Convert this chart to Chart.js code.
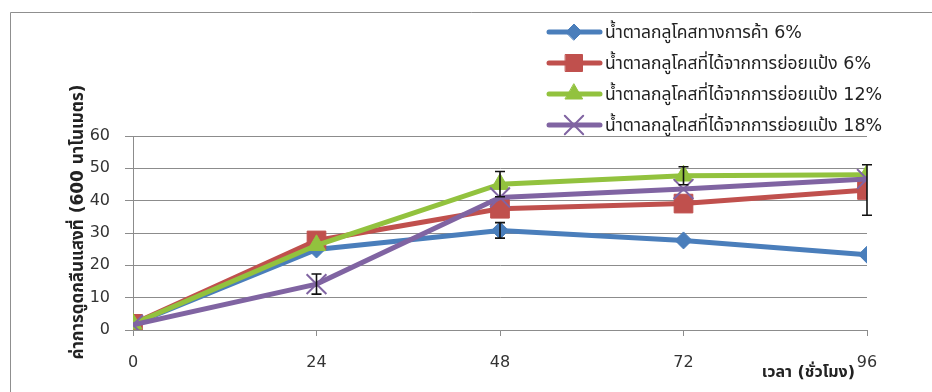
<!DOCTYPE html>
<html>
<head>
<meta charset="utf-8">
<script src="https://cdn.jsdelivr.net/npm/chart.js@4/dist/chart.umd.min.js"></script>
<style>
  html, body { margin: 0; padding: 0; background: #fff; }
  #wrap { width: 932px; height: 392px; position: relative; }
</style>
</head>
<body>
<div id="wrap"><canvas id="c" width="932" height="392"></canvas></div>
<script>
// Absorbance at 600 nm over fermentation time for four glucose sources
const hours = [0, 24, 48, 72, 96];
const yTicks = [0, 10, 20, 30, 40, 50, 60];

const seriesNames = [
  'น้ำตาลกลูโคสทางการค้า 6%',
  'น้ำตาลกลูโคสที่ได้จากการย่อยแป้ง 6%',
  'น้ำตาลกลูโคสที่ได้จากการย่อยแป้ง 12%',
  'น้ำตาลกลูโคสที่ได้จากการย่อยแป้ง 18%'
];

const commercial6   = [1.8, 24.9, 30.8, 27.7, 23.3];
const hydrolysate6  = [1.9, 27.7, 37.5, 39.1, 43.3];
const hydrolysate12 = [1.9, 26.2, 45.1, 47.7, 48.0];
const hydrolysate18 = [1.6, 14.2, 41.0, 43.6, 46.7];

// Standard deviations (null = no error bar shown)
const commercial6Err   = [null, null, 2.4, null, null];
const hydrolysate6Err  = [null, null, null, null, 7.8];
const hydrolysate12Err = [null, null, 3.9, 2.8, null];
const hydrolysate18Err = [null, 3.1, null, null, null];

const yTitle = 'ค่าการดูดกลืนแสงที่ (600 นาโนเมตร)';
const xTitle = 'เวลา (ชั่วโมง)';

const FONT = '"DejaVu Sans", Tahoma, "Noto Sans Thai", "Noto Sans", sans-serif';

function pts(values) {
  return values.map((v, i) => ({ x: hours[i], y: v }));
}

const styles = [
  { color: '#4a7ebb', pointStyle: 'rectRot', radius: 8.5, borderW: 1, legendR: 8 },
  { color: '#c0504d', pointStyle: 'rect', radius: 13.2, borderW: 1, legendR: 12 },
  { color: '#92c23e', pointStyle: 'triangle', radius: 10.5, borderW: 1, legendR: 10 },
  { color: '#8064a2', pointStyle: 'crossRot', radius: 14, borderW: 2, legendR: 13 }
];
const values = [commercial6, hydrolysate6, hydrolysate12, hydrolysate18];
const errors = [commercial6Err, hydrolysate6Err, hydrolysate12Err, hydrolysate18Err];

const datasets = values.map((vals, i) => ({
  label: seriesNames[i],
  data: pts(vals),
  errors: errors[i],
  borderColor: styles[i].color,
  backgroundColor: styles[i].color,
  borderWidth: 5,
  pointStyle: styles[i].pointStyle,
  pointRadius: styles[i].radius,
  pointBorderWidth: styles[i].borderW,
  pointBackgroundColor: styles[i].color,
  pointBorderColor: styles[i].color,
  legendRadius: styles[i].legendR,
  tension: 0,
  order: 3 - i
}));

// Outer frame, axis titles, error bars and the line-sample legend
const decorations = {
  id: 'decorations',
  beforeDraw(chart) {
    const ctx = chart.ctx;
    ctx.save();
    ctx.fillStyle = '#fff';
    ctx.fillRect(0, 0, chart.width, chart.height);
    ctx.strokeStyle = '#8f8f8f';
    ctx.lineWidth = 1;
    ctx.beginPath();
    ctx.moveTo(10.5, chart.height);
    ctx.lineTo(10.5, 12.5);
    ctx.lineTo(chart.width, 12.5);
    ctx.stroke();
    ctx.restore();
  },
  afterDatasetsDraw(chart) {
    const ctx = chart.ctx;
    const xs = chart.scales.x, ys = chart.scales.y;
    ctx.save();
    ctx.strokeStyle = '#111';
    ctx.lineWidth = 1.6;
    chart.data.datasets.forEach(ds => {
      ds.data.forEach((p, j) => {
        const e = ds.errors[j];
        if (e == null) return;
        const px = xs.getPixelForValue(p.x);
        const top = ys.getPixelForValue(p.y + e);
        const bot = ys.getPixelForValue(p.y - e);
        ctx.beginPath();
        ctx.moveTo(px, top); ctx.lineTo(px, bot);
        ctx.moveTo(px - 5, top); ctx.lineTo(px + 5, top);
        ctx.moveTo(px - 5, bot); ctx.lineTo(px + 5, bot);
        ctx.stroke();
      });
    });
    ctx.restore();
  },
  afterDraw(chart) {
    const ctx = chart.ctx;
    ctx.save();
    // y-axis title
    ctx.fillStyle = '#222';
    ctx.font = 'bold 17px ' + FONT;
    ctx.textAlign = 'center';
    ctx.textBaseline = 'middle';
    ctx.translate(79, 222);
    ctx.rotate(-Math.PI / 2);
    ctx.fillText(yTitle, 0, 0);
    ctx.setTransform(1, 0, 0, 1, 0, 0);
    // x-axis title
    ctx.font = 'bold 16px ' + FONT;
    ctx.textAlign = 'right';
    ctx.fillText(xTitle, 855, 373);
    // legend
    const rowY = [32, 63, 94, 125];
    chart.data.datasets.forEach((ds, i) => {
      const y = rowY[i];
      ctx.strokeStyle = ds.borderColor;
      ctx.lineWidth = 5;
      ctx.lineCap = 'round';
      ctx.beginPath();
      ctx.moveTo(549, y); ctx.lineTo(600, y);
      ctx.stroke();
      ctx.fillStyle = ds.pointBackgroundColor;
      ctx.strokeStyle = ds.pointBorderColor;
      ctx.lineWidth = ds.pointBorderWidth;
      Chart.helpers.drawPoint(ctx, {
        pointStyle: ds.pointStyle,
        radius: ds.legendRadius,
        rotation: 0,
        borderWidth: ds.pointBorderWidth
      }, 574, y);
      ctx.fillStyle = '#222';
      ctx.font = '17.5px ' + FONT;
      ctx.textAlign = 'left';
      ctx.textBaseline = 'middle';
      ctx.fillText(ds.label, 605, y + 1);
    });
    ctx.restore();
  }
};

new Chart(document.getElementById('c'), {
  type: 'line',
  data: { datasets },
  plugins: [decorations],
  options: {
    responsive: false,
    animation: false,
    devicePixelRatio: 1,
    layout: { padding: { left: 0, top: 136, right: 65, bottom: 0 } },
    plugins: { legend: { display: false }, tooltip: { enabled: false } },
    scales: {
      x: {
        type: 'linear',
        min: hours[0],
        max: hours[hours.length - 1],
        afterBuildTicks: s => { s.ticks = hours.map(v => ({ value: v })); },
        afterFit: s => { s.height = 62; },
        grid: { drawOnChartArea: false, drawTicks: true, tickLength: 6, color: '#8c8c8c' },
        border: { color: '#8c8c8c', width: 1 },
        ticks: { color: '#333', font: { family: FONT, size: 16 }, padding: 17, maxRotation: 0 }
      },
      y: {
        min: yTicks[0],
        max: yTicks[yTicks.length - 1],
        afterBuildTicks: s => { s.ticks = yTicks.map(v => ({ value: v })); },
        afterFit: s => { s.width = 133; },
        grid: { color: '#8c8c8c', lineWidth: 1, tickLength: 8 },
        border: { color: '#8c8c8c', width: 1 },
        ticks: { color: '#333', font: { family: FONT, size: 16 }, padding: 15 }
      }
    }
  }
});
</script>
</body>
</html>
